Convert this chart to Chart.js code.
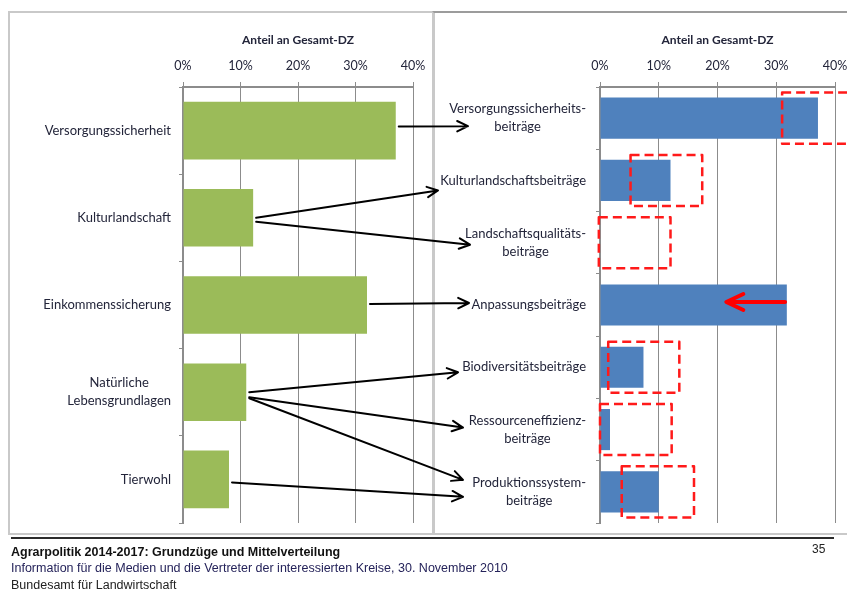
<!DOCTYPE html>
<html lang="de">
<head>
<meta charset="utf-8">
<title>Anteil an Gesamt-DZ</title>
<script src="https://cdn.jsdelivr.net/npm/chart.js@4.4.1/dist/chart.umd.min.js"></script>
<style>
  html, body { margin: 0; padding: 0; background: #fff; }
  #page { position: relative; width: 847px; height: 589px; overflow: hidden; }
  #page canvas, .frame, .txt, .rule { position: absolute; }
  .frame { box-sizing: border-box; border: 2px solid #c9c9c9; }
  .rule { left: 11px; top: 537px; width: 823px; height: 2px; background: #2b2b2b; }
  .txt { font-family: "Liberation Sans", Arial, sans-serif; white-space: nowrap; font-size: 12.5px; }
</style>
</head>
<body>
<div id="page">
  <div class="frame" style="left:8px;top:11px;width:427px;height:524px;"></div>
  <div class="frame" style="left:432px;top:11px;width:430px;height:524px;border-top-color:#9c9c9c;"></div>
  <canvas id="leftChart" width="423" height="518" style="left:10px;top:13px;"></canvas>
  <canvas id="rightChart" width="413" height="518" style="left:434px;top:13px;"></canvas>
  <canvas id="overlay" width="847" height="589" style="left:0;top:0;"></canvas>
  <div class="rule"></div>
  <div class="txt" style="left:11px;top:545px;font-weight:bold;color:#111;">Agrarpolitik 2014-2017: Grundzüge und Mittelverteilung</div>
  <div class="txt" style="left:11px;top:561px;color:#25235a;">Information für die Medien und die Vertreter der interessierten Kreise, 30. November 2010</div>
  <div class="txt" style="left:11px;top:578px;color:#222;">Bundesamt für Landwirtschaft</div>
  <div class="txt" style="left:812px;top:542px;font-size:12px;color:#222;">35</div>
</div>

<script>
/* ------------------------------------------------------------
   Daten (Anteil an Gesamt-DZ, in %)
   ------------------------------------------------------------ */
const leftCategories = [
  ["Versorgungssicherheit"],
  ["Kulturlandschaft"],
  ["Einkommenssicherung"],
  ["Natürliche", "Lebensgrundlagen"],
  ["Tierwohl"],
];
const leftShares = [37, 12.2, 32, 11, 8];

const rightCategories = [
  ["Versorgungssicherheits-", "beiträge"],
  ["Kulturlandschaftsbeiträge"],
  ["Landschaftsqualitäts-", "beiträge"],
  ["Anpassungsbeiträge"],
  ["Biodiversitätsbeiträge"],
  ["Ressourceneffizienz-", "beiträge"],
  ["Produktionssystem-", "beiträge"],
];
const rightShares = [37.1, 12, 0, 31.8, 7.4, 1.7, 10];

// gestrichelte Bandbreiten (rechts), null = kein Rahmen
const rangeLow  = [31, 5.2, -0.2, null, 1.4, 0, 3.7];
const rangeHigh = [44, 17.4, 12, null, 13.5, 12.2, 16];

// roter Pfeil im Balken "Anpassungsbeiträge"
const shiftFrom = 31.5;
const shiftTo = 21.5;
const shiftCategory = 3;

const axisTicks = [0, 10, 20, 30, 40];
const tickLabels = ["0%", "10%", "20%", "30%", "40%"];

// Verbindungen links -> rechts: [links, rechts, dy links, dy rechts, Spitze vor rechter Achse]
const links = [
  [0, 0, -4, 8, 132],
  [1, 1, 0, 10, 162],
  [1, 2, 4, 2, 130],
  [2, 3, -1, -2, 131],
  [3, 4, 0, 5, 142],
  [3, 5, 5, -2, 137],
  [3, 6, 6, -12, 137],
  [4, 6, 3, 5, 137],
];

/* ------------------------------------------------------------
   Stil
   ------------------------------------------------------------ */
const FONT = "Lato, 'Open Sans', sans-serif";
const TEXT = "#23253a";
const GRID = "#8c8c8c";

/* Kategorienbeschriftung: Block rechtsbündig, Zeilen zentriert */
const categoryLabels = {
  id: "categoryLabels",
  afterDraw(chart, args, opts) {
    const { ctx, chartArea, scales: { y } } = chart;
    ctx.save();
    ctx.font = "13px " + FONT;
    ctx.fillStyle = TEXT;
    ctx.textAlign = "center";
    ctx.textBaseline = "middle";
    opts.labels.forEach((lines, i) => {
      const cy = y.getPixelForValue(i);
      const w = Math.max(...lines.map((l) => ctx.measureText(l).width));
      const cx = chartArea.left - opts.gap - w / 2;
      lines.forEach((l, k) => ctx.fillText(l, cx, cy + (k - (lines.length - 1) / 2) * 18));
    });
    ctx.restore();
  },
};

/* gestrichelte Rahmen + roter Pfeil (nur rechts) */
const rangeBoxes = {
  id: "rangeBoxes",
  afterDatasetsDraw(chart) {
    const { ctx, scales: { x, y } } = chart;
    const band = y.getPixelForValue(1) - y.getPixelForValue(0);
    ctx.save();
    ctx.strokeStyle = "#ff1a1a";
    ctx.lineWidth = 2.5;
    ctx.setLineDash([9, 5]);
    ctx.lineJoin = "round";
    rangeLow.forEach((lo, i) => {
      if (lo === null) return;
      const x0 = x.getPixelForValue(lo);
      const x1 = x.getPixelForValue(rangeHigh[i]);
      const cy = y.getPixelForValue(i);
      ctx.strokeRect(x0, cy - band * 0.41, x1 - x0, band * 0.82);
    });
    // Pfeil
    ctx.setLineDash([]);
    ctx.strokeStyle = "#ff0000";
    ctx.lineWidth = 4;
    ctx.lineCap = "round";
    const cy = y.getPixelForValue(shiftCategory) - 3;
    const xa = x.getPixelForValue(shiftFrom);
    const xb = x.getPixelForValue(shiftTo);
    ctx.beginPath();
    ctx.moveTo(xa, cy);
    ctx.lineTo(xb + 2, cy);
    ctx.moveTo(xb + 17, cy - 8);
    ctx.lineTo(xb, cy);
    ctx.lineTo(xb + 17, cy + 8);
    ctx.stroke();
    ctx.restore();
  },
};

function makeChart(id, categories, values, color, yWidth, padRight, gap, extraPlugins) {
  return new Chart(document.getElementById(id), {
    type: "bar",
    data: {
      labels: categories.map((l) => l.join(" ")),
      datasets: [{
        data: values,
        backgroundColor: color,
        borderWidth: 0,
        barPercentage: 0.66,
        categoryPercentage: 1,
      }],
    },
    options: {
      indexAxis: "y",
      responsive: false,
      animation: false,
      devicePixelRatio: 1,
      layout: { padding: { top: 0, left: 0, right: padRight, bottom: 8 } },
      plugins: {
        legend: { display: false },
        tooltip: { enabled: false },
        categoryLabels: { labels: categories, gap: gap },
      },
      scales: {
        x: {
          position: "top",
          min: 0,
          max: 40,
          afterBuildTicks: (s) => { s.ticks = axisTicks.map((v) => ({ value: v })); },
          afterFit: (s) => { s.height = 74; s.paddingLeft = 0; s.paddingRight = 0; },
          ticks: {
            padding: 9,
            color: TEXT,
            font: { family: FONT, size: 12.5 },
            callback: (v, i) => tickLabels[i],
          },
          grid: { color: GRID, lineWidth: 1, tickLength: 5 },
          border: { color: GRID, width: 2 },
          title: {
            display: true,
            text: "Anteil an Gesamt-DZ",
            color: TEXT,
            font: { family: FONT, size: 12, weight: "bold" },
            padding: { top: 20, bottom: 0 },
          },
        },
        y: {
          afterFit: (s) => { s.width = yWidth; s.paddingTop = 0; s.paddingBottom = 0; },
          ticks: { display: false },
          grid: { color: GRID, drawOnChartArea: false, tickLength: 4, offset: true },
          border: { color: GRID, width: 2 },
        },
      },
    },
    plugins: [categoryLabels].concat(extraPlugins),
  });
}

const leftChart = makeChart("leftChart", leftCategories, leftShares, "#9BBB59", 173, 20, 12, []);
const rightChart = makeChart("rightChart", rightCategories, rightShares, "#4F81BD", 166, 12, 14, [rangeBoxes]);

/* ------------------------------------------------------------
   Verbindungspfeile zwischen beiden Diagrammen
   ------------------------------------------------------------ */
function drawLinks() {
  const ctx = document.getElementById("overlay").getContext("2d");
  const L = { chart: leftChart, dx: 10, dy: 13 };
  const R = { chart: rightChart, dx: 434, dy: 13 };
  ctx.strokeStyle = "#000";
  ctx.lineWidth = 2;
  ctx.lineCap = "round";
  ctx.lineJoin = "round";
  links.forEach(([li, ri, dyl, dyr, back]) => {
    const sx = L.chart.scales.x.getPixelForValue(leftShares[li]) + L.dx + 3;
    const sy = L.chart.scales.y.getPixelForValue(li) + L.dy + dyl;
    const ex = R.chart.chartArea.left + R.dx - back;
    const ey = R.chart.scales.y.getPixelForValue(ri) + R.dy + dyr;
    const a = Math.atan2(ey - sy, ex - sx);
    const h = 12, spread = 0.45;
    ctx.beginPath();
    ctx.moveTo(sx, sy);
    ctx.lineTo(ex, ey);
    ctx.moveTo(ex - h * Math.cos(a - spread), ey - h * Math.sin(a - spread));
    ctx.lineTo(ex, ey);
    ctx.lineTo(ex - h * Math.cos(a + spread), ey - h * Math.sin(a + spread));
    ctx.stroke();
  });
}
drawLinks();
</script>
</body>
</html>
